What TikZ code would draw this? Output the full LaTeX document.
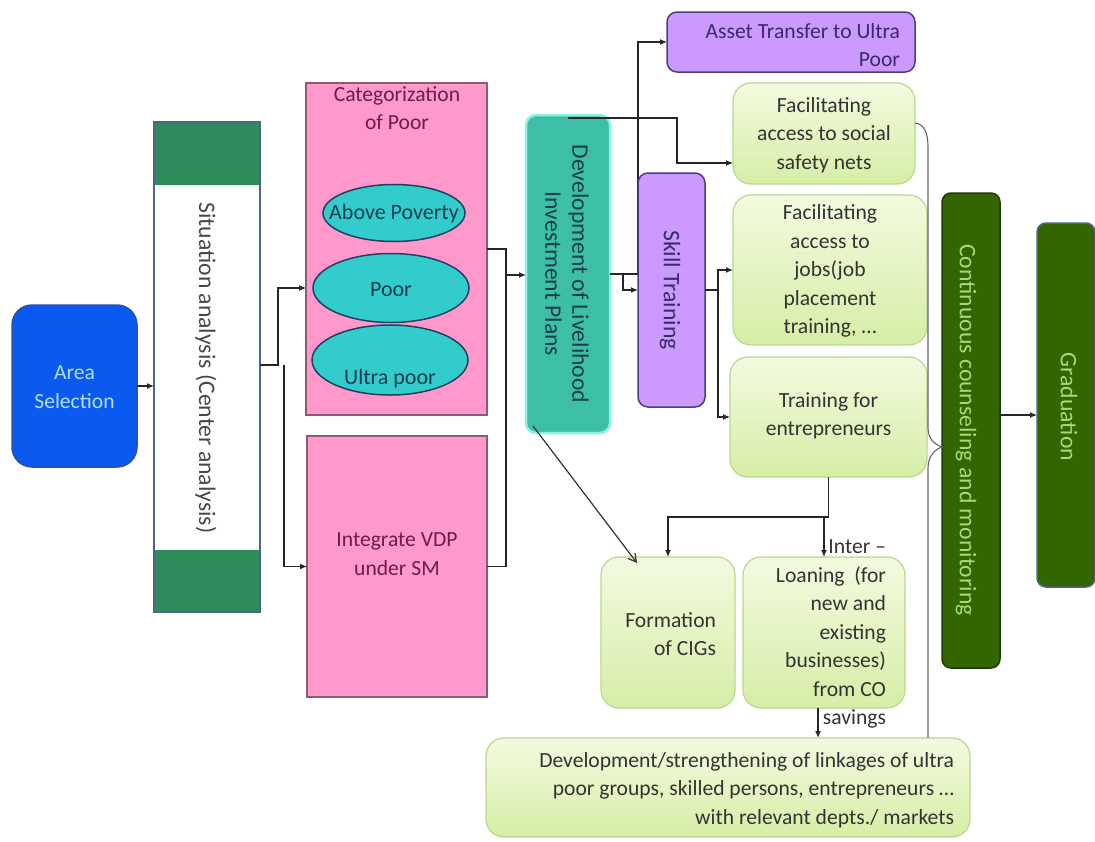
\documentclass[tikz,border=0pt]{standalone}
\usepackage{fontspec}
\setmainfont{Carlito}
\usetikzlibrary{shapes.geometric,arrows.meta}
\newcommand\dfs{\fontsize{21.6}{28.5}\selectfont}
\newcommand\rfs{\fontsize{23.7}{27}\selectfont}
\newcommand\efs{\fontsize{22}{26}\selectfont}
\definecolor{areablue}{HTML}{0A5AF0}
\definecolor{areaborder}{HTML}{2A52A8}
\definecolor{areatext}{HTML}{B4DCFF}
\definecolor{band}{HTML}{2E8B5A}
\definecolor{slate}{HTML}{4E6585}
\definecolor{pinkf}{HTML}{FF99CC}
\definecolor{pinkd}{HTML}{8A5A78}
\definecolor{pinkt}{HTML}{6A1E4C}
\definecolor{tealf}{HTML}{33CCCC}
\definecolor{teald}{HTML}{1F4060}
\definecolor{tealt}{HTML}{0F3F4F}
\definecolor{devf}{HTML}{3DBFA5}
\definecolor{devglow}{HTML}{8CF2E4}
\definecolor{devt}{HTML}{163F48}
\definecolor{purf}{HTML}{CC99FF}
\definecolor{purd}{HTML}{4A3F80}
\definecolor{purt}{HTML}{3A2A6A}
\definecolor{lgtop}{HTML}{F3FADF}
\definecolor{lgbot}{HTML}{D6EEA6}
\definecolor{lgd}{HTML}{B8D890}
\definecolor{lgt}{HTML}{333333}
\definecolor{dgreen}{HTML}{336600}
\definecolor{dgreend}{HTML}{1E3A08}
\definecolor{dgt}{HTML}{A8D878}
\begin{document}
\begin{tikzpicture}[x=1pt,y=-1pt,
  every node/.style={font=\dfs, inner sep=0pt, outer sep=0pt},
  rot/.style={rotate=-90, font=\rfs},
  arr/.style={draw=black!85, line width=1.2pt, -{Latex[length=7pt,width=6pt]}},
  ln/.style={draw=black!85, line width=1.2pt},
  brace/.style={draw=black!60, line width=1.1pt},
  bluebox/.style={rectangle, rounded corners=20pt, fill=areablue, draw=areaborder, line width=1.5pt},
  sitbox/.style={rectangle, fill=white},
  pinkbox/.style={rectangle, fill=pinkf, draw=pinkd, line width=1.2pt},
  ell/.style={ellipse, fill=tealf, draw=teald, line width=1.5pt},
  elltxt/.style={font=\efs, text=tealt},
  devbox/.style={rectangle, rounded corners=10pt, fill=devf, draw=devglow, line width=2.5pt},
  purbox/.style={rectangle, rounded corners=10pt, fill=purf, draw=purd, line width=1.5pt},
  lgbox/.style={rectangle, rounded corners=18pt, top color=lgtop, bottom color=lgbot, draw=lgd, line width=1.2pt},
  dgbox/.style={rectangle, rounded corners=9pt, fill=dgreen, draw=dgreend, line width=1.5pt},
  txt/.style={align=center}
]
\useasboundingbox (0,0) rectangle (1095,841);

% ---------- helper points for connectors ----------
\coordinate (j1) at (278,365);
\coordinate (j2) at (284,365);
\coordinate (j3) at (506,275);
\coordinate (k1) at (623,274);
\coordinate (d2) at (677,163);
\coordinate (s1) at (718,290);
\coordinate (t1) at (828,517);
\coordinate (l1) at (818,708);
\coordinate (g1) at (1000,415);

% ---------- nodes ----------
\node[bluebox, minimum width=125pt, minimum height=162pt] (area) at (74.5,386) {};
\node[txt, text=areatext] (areat) at (74.5,387) {Area\\Selection};

\node[sitbox, minimum width=106pt, minimum height=490pt] (sit) at (207,367) {};
\fill[band] (154,122) rectangle (260,185);
\fill[band] (154,550) rectangle (260,612);
\draw[slate, line width=2.5pt] (sit.north west) rectangle (sit.south east);
\node[rot, text=black!72] (sitt) at (206,368) {Situation analysis (Center analysis)};

\node[pinkbox, minimum width=181pt, minimum height=332pt] (cat) at (396.5,249) {};
\node[txt, text=pinkt] (catt) at (397,108) {Categorization\\of Poor};
\node[ell, minimum width=142pt, minimum height=57pt] (ap) at (394,213) {};
\node[elltxt] (apt) at (394,214) {Above Poverty};
\node[ell, minimum width=156pt, minimum height=69pt] (poor) at (391,288) {};
\node[elltxt] (poort) at (391,290) {Poor};
\node[ell, minimum width=156pt, minimum height=70pt] (ultra) at (390,360) {};
\node[elltxt] (ultrat) at (390,379) {Ultra poor};

\node[pinkbox, minimum width=180pt, minimum height=261pt] (integ) at (397,566.5) {};
\node[txt, text=pinkt] (integt) at (397,554) {Integrate VDP\\under SM};

% connectors, left part
\draw[arr] (area.east) -- (area.east -| sit.west);
\draw[arr] (j1 -| sit.east) -- (j1) |- (cat.west |- poor.center);
\draw[arr] (j2) |- (integ.west);
\draw[ln] (cat.east) -| (j3 |- integ.east) -- (integ.east);

% asset connector (partly hidden by the skill box)
\draw[arr] (k1 -| 638,0) |- (667,42);

\node[devbox, minimum width=84pt, minimum height=318pt] (dev) at (568,274) {};
\node[txt, rot, text=devt] (devtx) at (567,274) {Development of Livelihood\\Investment Plans};

\node[purbox, minimum width=67pt, minimum height=234pt] (skill) at (671.5,290) {};
\node[rot, text=purt] (skillt) at (670,290) {Skill Training};

\node[purbox, minimum width=248pt, minimum height=60pt] (asset) at (791,42) {};
\node[txt, align=right, anchor=east, text=purt] (assett) at (900,45) {Asset Transfer to Ultra\\Poor};

\node[lgbox, minimum width=182pt, minimum height=101pt] (social) at (824,133.5) {};
\node[txt, text=lgt] (socialt) at (824,135) {Facilitating\\access to social\\safety nets};

\node[lgbox, minimum width=194pt, minimum height=150pt] (jobs) at (830,270) {};
\node[txt, text=lgt] (jobst) at (830,271) {Facilitating\\access to\\jobs(job\\placement\\training, \dots};

\node[lgbox, minimum width=197pt, minimum height=120pt] (train) at (828.5,417) {};
\node[txt, text=lgt] (traint) at (828.5,416) {Training for\\entrepreneurs};

\node[lgbox, minimum width=134pt, minimum height=151pt] (cig) at (668,632.5) {};
\node[align=right, anchor=east, text=lgt] (cigt) at (716,634) {Formation\\of CIGs};

\node[lgbox, minimum width=162pt, minimum height=151pt] (loan) at (824,632.5) {};
\node[align=right, anchor=east, text=lgt] (loant) at (886,634) {Inter --\\Loaning\ \ (for\\new and\\existing\\businesses)\\from CO\\savings};

\node[lgbox, minimum width=484pt, minimum height=99pt] (link) at (728,787.5) {};
\node[align=right, anchor=east, text=lgt] (linkt) at (954,790) {Development/strengthening of linkages of ultra\\poor groups, skilled persons, entrepreneurs \dots\\with relevant depts./ markets};

\node[dgbox, minimum width=58pt, minimum height=475pt] (cont) at (971,430.5) {};
\node[rot, text=dgt] (contt) at (966,430) {Continuous counseling and monitoring};

\node[dgbox, draw=slate, minimum width=58pt, minimum height=364pt] (grad) at (1066,405) {};
\node[rot, text=dgt] (gradt) at (1069,407) {Graduation};

% ---------- remaining connectors ----------
\draw[arr] (j3) -- (j3 -| dev.west);
\draw[ln] (dev.east) -- (dev.east -| skill.west);
\draw[arr] (k1) |- (skill.west);
\draw[arr] ([yshift=-3pt]dev.north) -| (d2) -- (d2 -| social.west);
\draw[arr] (skill.east) -- (s1) |- (jobs.west);
\draw[arr] (s1) |- (train.west);
\draw[arr] (train.south) -- (train.south |- t1) -| (cig.north);
\draw[arr] (loan.north |- t1) -- (loan.north);
\draw[draw=black!80, line width=1.2pt, -{Straight Barb[length=8pt,width=9pt]}]
  ([xshift=7pt,yshift=7pt]dev.south west) -- ([xshift=36pt,yshift=-6pt]cig.north west);
\draw[arr] (l1) -- (l1 |- link.north);
\draw[arr] (g1) -- (g1 -| grad.west);

% brace-like connector to continuous counseling
\draw[brace] (social.east |- 0,123) .. controls (924,124) and (928,132) .. (928,148)
  -- (928,428) .. controls (928,440) and (936,445) .. (cont.west |- 0,447)
  .. controls (936,449) and (928,455) .. (928,468) -- (928,738);
\end{tikzpicture}
\end{document}
